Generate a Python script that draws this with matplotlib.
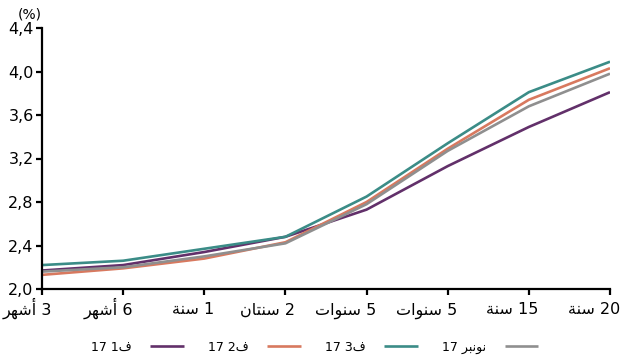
import matplotlib
matplotlib.use('Agg')
import matplotlib.pyplot as plt
from matplotlib.ticker import FixedLocator, FixedFormatter
from matplotlib.transforms import ScaledTranslation

# Arabic words written as presentation forms in visual (left-to-right) order,
# since matplotlib does no shaping / bidi.
ASHHUR = '\uFEAE\uFEEC\uFEB7\uFE83'          # أشهر
SANA = '\uFE94\uFEE8\uFEB3'                  # سنة
SANATAN = '\uFEE5\uFE8E\uFE98\uFEE8\uFEB3'   # سنتان
SANAWAT = '\uFE95\uFE8D\uFEEE\uFEE8\uFEB3'   # سنوات
FA = '\uFED1'                                # ف
NOVEMBER = '\uFEAE\uFE92\uFEE7\uFEEE\uFEE7'  # نونبر

maturities = [ASHHUR + ' 3', ASHHUR + ' 6', SANA + ' 1', SANATAN + ' 2',
              SANAWAT + ' 5', SANAWAT + ' 5', SANA + ' 15', SANA + ' 20']

series_names = ['17 1' + FA, '17 2' + FA, '17 3' + FA, '17 ' + NOVEMBER]
q1_17 = [2.17, 2.22, 2.34, 2.48, 2.73, 3.13, 3.49, 3.81]
q2_17 = [2.13, 2.19, 2.28, 2.43, 2.80, 3.29, 3.74, 4.03]
q3_17 = [2.22, 2.26, 2.37, 2.48, 2.85, 3.34, 3.81, 4.09]
nov_17 = [2.16, 2.20, 2.30, 2.42, 2.78, 3.27, 3.68, 3.98]

yticks = [2.0, 2.4, 2.8, 3.2, 3.6, 4.0, 4.4]
ytick_labels = ['2,0', '2,4', '2,8', '3,2', '3,6', '4,0', '4,4']

colors = ['#62306a', '#d8795f', '#3b8c87', '#8f8f8f']

plt.rcParams['font.family'] = ['DejaVu Sans']

fig = plt.figure(figsize=(6.35, 3.57), dpi=100)
ax = fig.add_axes([42 / 635, 1 - 289 / 357, 568 / 635, 261 / 357])

x = list(range(len(maturities)))
for vals, c, name in zip([q1_17, q2_17, q3_17, nov_17], colors, series_names):
    ax.plot(x, vals, color=c, lw=1.9, label=name, solid_capstyle='butt')

ax.set_xlim(0, len(maturities) - 1)
ax.set_ylim(2.0, 4.4)
ax.yaxis.set_major_locator(FixedLocator(yticks))
ax.yaxis.set_major_formatter(FixedFormatter(ytick_labels))
ax.set_xticks(x)
ax.set_xticklabels([])

# category labels sit a little right of their tick, right-aligned, on one baseline
shift = ax.get_xaxis_transform() + ScaledTranslation(10 / 100, -25.5 / 100, fig.dpi_scale_trans)
for xi, lab in zip(x, maturities):
    ax.text(xi, 0, lab, transform=shift, ha='right', va='baseline', fontsize=11.5)

for s in ['top', 'right']:
    ax.spines[s].set_visible(False)
for s in ['left', 'bottom']:
    ax.spines[s].set_linewidth(1.6)
    ax.spines[s].set_color('black')
ax.tick_params(axis='both', length=4, width=1.6, labelsize=11.5, pad=2)

fig.text(18 / 635, 1 - 14 / 357, '(%)', fontsize=10, va='center')

ax.legend(loc='upper center', bbox_to_anchor=(0.48, -0.155), ncol=4,
          frameon=False, markerfirst=False, fontsize=9, handlelength=2.7,
          handletextpad=1.5, columnspacing=1.9)

fig.savefig('out.png', dpi=100)
